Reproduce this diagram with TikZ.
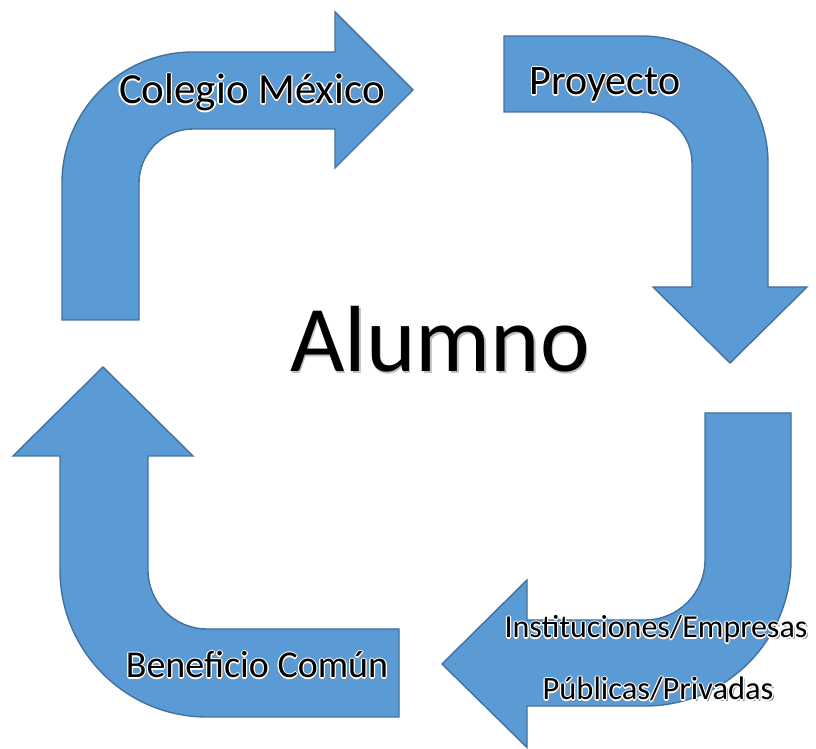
\documentclass[tikz,border=0pt]{standalone}
\usepackage{fontspec}
\setmainfont{Carlito}
\definecolor{arrowblue}{HTML}{5B9BD5}
\definecolor{arrowedge}{HTML}{41719C}
\definecolor{shade}{HTML}{8C8C8C}
\tikzset{bentarrow/.style={fill=arrowblue, draw=arrowedge, line width=1.4pt, line join=miter}}
\tikzset{arrowtext/.style={anchor=base, inner sep=0pt, text=black}}
% one layer of the glowing text
\newcommand\lay[3]{\makebox[0pt][l]{\hspace*{#1}\raisebox{#2}{#3}}}
\newcommand\glowtext[1]{%
  \lay{1.8pt}{-1.8pt}{\color{shade}#1}%
  \lay{-1.2pt}{0pt}{\color{white}#1}\lay{1.2pt}{0pt}{\color{white}#1}%
  \lay{0pt}{1.2pt}{\color{white}#1}\lay{0pt}{-1.2pt}{\color{white}#1}%
  \lay{-0.85pt}{0.85pt}{\color{white}#1}\lay{0.85pt}{0.85pt}{\color{white}#1}%
  \lay{-0.85pt}{-0.85pt}{\color{white}#1}\lay{0.85pt}{-0.85pt}{\color{white}#1}%
  #1}

\begin{document}
\begin{tikzpicture}[x=1pt,y=1pt]
\useasboundingbox (0,0) rectangle (816,749);

%arrow to the right, top left
\draw[bentarrow] (62,429) -- (62,566) arc[start angle=180, end angle=90, radius=131]
  -- (335,697) -- (335,737) -- (413,659) -- (335,581) -- (335,620) -- (193,620)
  arc[start angle=90, end angle=180, radius=54] -- (139,429) -- cycle;
%arrow down, top right
\draw[bentarrow] (504,713) -- (641,713) arc[start angle=90, end angle=0, radius=127]
  -- (768,462) -- (807,462) -- (730,386) -- (653,462) -- (692,462) -- (692,586)
  arc[start angle=0, end angle=90, radius=51] -- (504,637) -- cycle;
%arrow to the left, bottom right
\draw[bentarrow] (791,336) -- (791,189) arc[start angle=0, end angle=-90, radius=146]
  -- (527,43) -- (527,1.5) -- (442,85) -- (527,169) -- (527,129) -- (645,129)
  arc[start angle=-90, end angle=0, radius=60] -- (705,336) -- cycle;
%arrow up, bottom left
\draw[bentarrow] (399,120) -- (207,120) arc[start angle=270, end angle=180, radius=59]
  -- (148,293) -- (193,293) -- (103,382) -- (13,293) -- (60,293) -- (60,179)
  arc[start angle=180, end angle=270, radius=147] -- (399,32) -- cycle;

%labels
\node[arrowtext] (colegio) at (252,645) {\fontsize{43}{50}\selectfont\glowtext{Colegio México}};
\node[arrowtext] (proyecto) at (605,654) {\fontsize{42}{50}\selectfont\glowtext{Proyecto}};
\node[arrowtext] (instituciones) at (656,111) {\fontsize{32}{38}\selectfont\glowtext{Instituciones/Empresas}};
\node[arrowtext] (publicas) at (658,49) {\fontsize{32.5}{38}\selectfont\glowtext{Públicas/Privadas}};
\node[arrowtext] (beneficio) at (257,71) {\fontsize{38}{46}\selectfont\glowtext{Beneficio Común}};
%
\node[arrowtext] (alumno) at (440,377) {\fontsize{94}{110}\selectfont\lay{1.5pt}{-1.5pt}{\color{black!25}Alumno}Alumno};
\end{tikzpicture}
\end{document}
